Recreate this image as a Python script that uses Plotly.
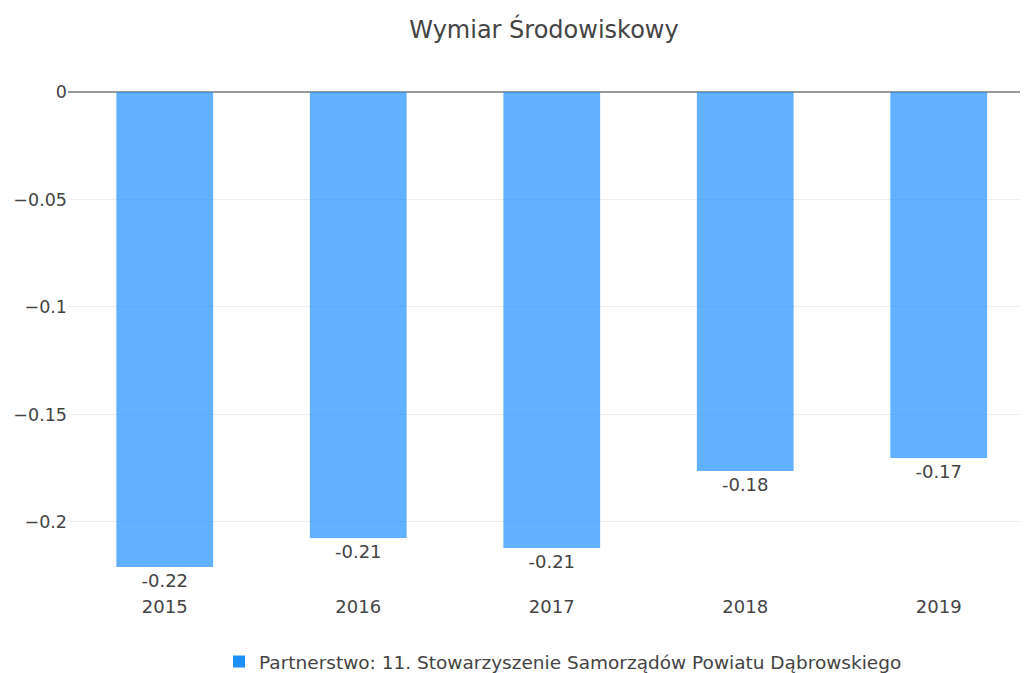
import plotly.graph_objects as go

years = ["2015", "2016", "2017", "2018", "2019"]
values = [-0.2209, -0.2074, -0.2121, -0.1763, -0.1702]
labels = [f"{v:.2f}" for v in values]
series_name = "Partnerstwo: 11. Stowarzyszenie Samorządów Powiatu Dąbrowskiego"
title_text = "Wymiar Środowiskowy"

W, H = 1012, 673

fig = go.Figure()
fig.add_trace(go.Bar(
    x=years, y=values, name=series_name,
    text=labels, textposition="outside",
    textfont=dict(size=18, color="#444"),
    marker=dict(color="rgb(30,144,255)", opacity=0.7,
                line=dict(width=0)),
    cliponaxis=False,
    showlegend=True,
))

fig.update_layout(
    width=W, height=H,
    margin=dict(l=60, r=0, t=84, b=87),
    paper_bgcolor="white", plot_bgcolor="white",
    font=dict(family="DejaVu Sans, Verdana, sans-serif", color="#444", size=18),
    title=dict(text=title_text, x=0.5, xref="paper", xanchor="center",
               y=1 - 22 / H, yref="container", yanchor="middle",
               font=dict(size=24, color="#444")),
    bargap=0.5,
    xaxis=dict(type="category", range=[-0.5, 4.42], showgrid=False,
               tickfont=dict(size=18, color="#444"), ticks="",
               showline=False),
    yaxis=dict(range=[-0.2335, 0], tickvals=[0, -0.05, -0.1, -0.15, -0.2],
               ticktext=["0", "−0.05", "−0.1", "−0.15", "−0.2"],
               showgrid=True, gridcolor="#eeeeee", gridwidth=1,
               zeroline=True, zerolinecolor="#999999", zerolinewidth=2,
               tickfont=dict(size=17.5, color="#444"), ticks="",
               showline=False),
    legend=dict(orientation="h", x=0.52, xanchor="center",
                y=1 - 654 / H, yref="container", yanchor="middle",
                font=dict(size=18.5, color="#444")),
)

fig.write_html("out.html")
